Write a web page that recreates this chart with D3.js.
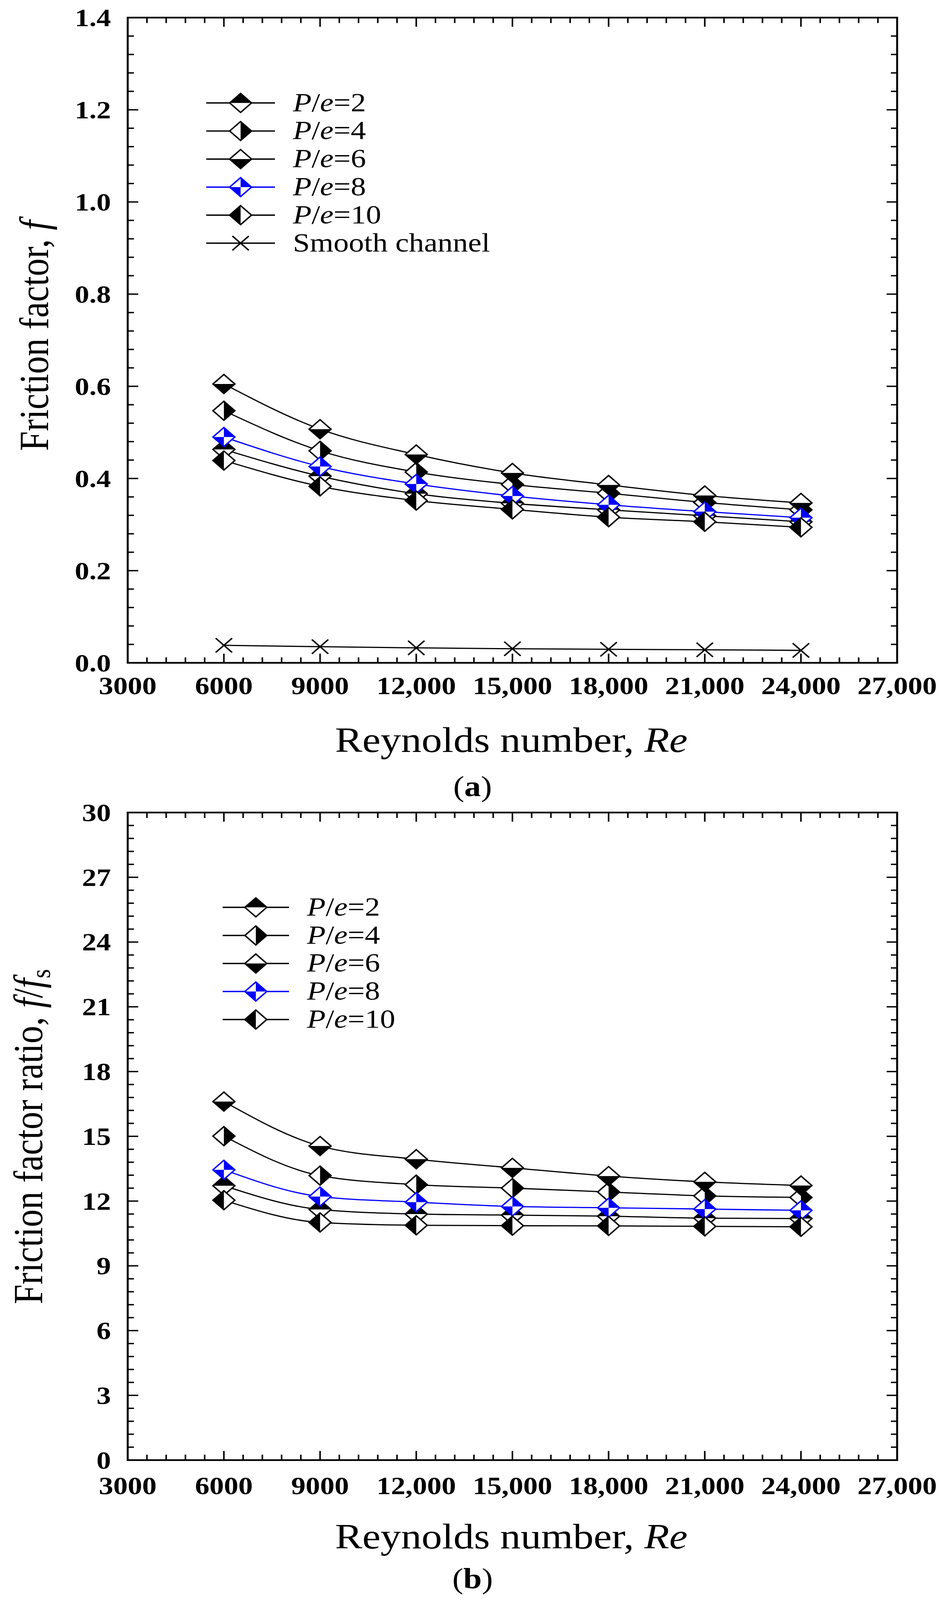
<!DOCTYPE html>
<html>
<head>
<meta charset="utf-8">
<script src="https://cdn.jsdelivr.net/npm/d3@7/dist/d3.min.js"></script>
<style>
  html, body { margin: 0; padding: 0; background: #fff; overflow: hidden; }
  svg { display: block; }
  text { font-family: "Liberation Serif", "Times New Roman", serif; fill: #000; }
</style>
</head>
<body>
<svg id="chart"></svg>
<script>
// ---------------- DATA ----------------
const reynolds = [6000, 9000, 12000, 15000, 18000, 21000, 24000];
const seriesLabels = ["2", "4", "6", "8", "10"];

// (a) friction factor f
const frictionPe2  = [0.463, 0.405, 0.367, 0.346, 0.332, 0.319, 0.306];
const frictionPe4  = [0.547, 0.460, 0.414, 0.387, 0.368, 0.348, 0.332];
const frictionPe6  = [0.605, 0.507, 0.452, 0.412, 0.386, 0.363, 0.347];
const frictionPe8  = [0.490, 0.426, 0.388, 0.362, 0.343, 0.328, 0.315];
const frictionPe10 = [0.439, 0.383, 0.352, 0.333, 0.316, 0.306, 0.294];
const frictionSmooth = [0.038, 0.035, 0.0325, 0.0305, 0.0294, 0.0283, 0.027];

// (b) friction factor ratio f/fs
const ratioPe2  = [12.71, 11.61, 11.40, 11.35, 11.30, 11.21, 11.19];
const ratioPe4  = [15.01, 13.18, 12.76, 12.60, 12.42, 12.24, 12.17];
const ratioPe6  = [16.61, 14.55, 13.94, 13.54, 13.16, 12.89, 12.72];
const ratioPe8  = [13.45, 12.21, 11.95, 11.75, 11.69, 11.63, 11.57];
const ratioPe10 = [12.04, 11.01, 10.88, 10.86, 10.85, 10.83, 10.81];

// axis ticks
const xTickValues = [3000, 6000, 9000, 12000, 15000, 18000, 21000, 24000, 27000];
const xTickLabels = ["3000", "6000", "9000", "12,000", "15,000", "18,000", "21,000", "24,000", "27,000"];
const yTickValuesA = [0, 0.2, 0.4, 0.6, 0.8, 1.0, 1.2, 1.4];
const yTickLabelsA = ["0.0", "0.2", "0.4", "0.6", "0.8", "1.0", "1.2", "1.4"];
const yTickValuesB = [0, 3, 6, 9, 12, 15, 18, 21, 24, 27, 30];
const yTickLabelsB = ["0", "3", "6", "9", "12", "15", "18", "21", "24", "27", "30"];

// marker styles per series (which half of the diamond is filled)
const markerStyles = ["top", "right", "bottom", "quad", "left"];
const seriesColors = ["#000", "#000", "#000", "#0000ff", "#000"];

// ---------------- DRAWING ----------------
const W = 2417, H = 4724;
const viewH = Math.min(H, window.innerHeight || H);
const svg = d3.select("#chart")
  .attr("width", W).attr("height", viewH)
  .attr("viewBox", `0 0 ${W} ${H}`)
  .attr("preserveAspectRatio", "none");
const BLACK = "#000";

function drawMarker(g, cx, cy, style, color) {
  const w = 28, h = 28;
  const m = g.append("g").attr("transform", `translate(${cx},${cy})`);
  if (style === "x") {
    const s = 21;
    m.append("path").attr("d", `M${-s},${-s}L${s},${s}M${-s},${s}L${s},${-s}`)
      .attr("stroke", color).attr("stroke-width", 4).attr("fill", "none");
    return;
  }
  const diamond = `M0,${-h}L${w},0L0,${h}L${-w},0Z`;
  m.append("path").attr("d", diamond).attr("fill", "#fff");
  let fillPath = "";
  if (style === "top") fillPath = `M${-w},0L0,${-h}L${w},0Z`;
  else if (style === "bottom") fillPath = `M${-w},0L0,${h}L${w},0Z`;
  else if (style === "left") fillPath = `M0,${-h}L${-w},0L0,${h}Z`;
  else if (style === "right") fillPath = `M0,${-h}L${w},0L0,${h}Z`;
  else if (style === "quad") fillPath = `M0,0L0,${-h}L${w},0ZM0,0L0,${h}L${-w},0Z`;
  m.append("path").attr("d", fillPath).attr("fill", color);
  m.append("path").attr("d", diamond).attr("fill", "none")
    .attr("stroke", color).attr("stroke-width", 4).attr("stroke-linejoin", "miter");
}

function drawPanel(cfg) {
  const { left, right, top, bottom, yDomain, yMinorStep, yTickValues, yTickLabels, series } = cfg;
  const x = d3.scaleLinear().domain([3000, 27000]).range([left, right]);
  const y = d3.scaleLinear().domain(yDomain).range([bottom, top]);
  const g = svg.append("g");

  // minor/major ticks (inward, on all four sides)
  const majorLen = 27, minorLen = 16;
  const xMinor = d3.range(3000, 27000 + 1, 600);
  const yMinor = d3.range(0, 1000).map(i => +(yDomain[0] + i * yMinorStep).toFixed(6)).filter(v => v <= yDomain[1] + 1e-9);
  const isMajorX = v => xTickValues.some(t => Math.abs(t - v) < 1e-6);
  const isMajorY = v => yTickValues.some(t => Math.abs(t - v) < 1e-6);

  const tickG = g.append("g").attr("stroke", BLACK).attr("stroke-width", 4);
  xMinor.forEach(v => {
    const L = isMajorX(v) ? majorLen : minorLen;
    const px = x(v);
    tickG.append("line").attr("x1", px).attr("x2", px).attr("y1", bottom).attr("y2", bottom - L);
    tickG.append("line").attr("x1", px).attr("x2", px).attr("y1", top).attr("y2", top + L);
  });
  yMinor.forEach(v => {
    const L = isMajorY(v) ? majorLen : minorLen;
    const py = y(v);
    tickG.append("line").attr("y1", py).attr("y2", py).attr("x1", left).attr("x2", left + L);
    tickG.append("line").attr("y1", py).attr("y2", py).attr("x1", right).attr("x2", right - L);
  });

  // frame
  g.append("rect").attr("x", left).attr("y", top).attr("width", right - left).attr("height", bottom - top)
    .attr("fill", "none").attr("stroke", BLACK).attr("stroke-width", 5);

  // tick labels
  xTickValues.forEach((v, i) => {
    g.append("text").attr("x", x(v)).attr("y", bottom + cfg.xLabelOffset)
      .attr("text-anchor", "middle").attr("font-size", 74).attr("font-weight", "bold")
      .text(xTickLabels[i]);
  });
  yTickValues.forEach((v, i) => {
    g.append("text").attr("x", left - 43).attr("y", y(v)).attr("dy", "0.34em")
      .attr("text-anchor", "end").attr("font-size", 74).attr("font-weight", "bold")
      .text(yTickLabels[i]);
  });

  // series lines + markers
  const line = d3.line().x(d => x(d[0])).y(d => y(d[1])).curve(d3.curveMonotoneX);
  series.forEach(s => {
    const pts = reynolds.map((r, i) => [r, s.values[i]]);
    g.append("path").attr("d", line(pts)).attr("fill", "none")
      .attr("stroke", s.color).attr("stroke-width", 3.5);
  });
  series.forEach(s => {
    reynolds.forEach((r, i) => drawMarker(g, x(r), y(s.values[i]), s.style, s.color));
  });

  // legend
  const lg = cfg.legend;
  series.slice().sort((a, b) => a.legendOrder - b.legendOrder).forEach((s, i) => {
    const ry = lg.y0 + i * lg.dy;
    g.append("line").attr("x1", lg.x1).attr("x2", lg.x2).attr("y1", ry).attr("y2", ry)
      .attr("stroke", s.color).attr("stroke-width", 4);
    drawMarker(g, lg.xm, ry, s.style, s.color);
    const t = g.append("text").attr("x", lg.xt).attr("y", ry).attr("dy", "0.31em").attr("font-size", 78);
    if (s.label === null) {
      t.text("Smooth channel");
    } else {
      t.append("tspan").attr("font-style", "italic").text("P");
      t.append("tspan").text("/");
      t.append("tspan").attr("font-style", "italic").text("e");
      t.append("tspan").text("=" + s.label);
    }
  });
  return { x, y };
}

function makeSeries(arrs) {
  return arrs.map((vals, i) => ({
    values: vals, style: markerStyles[i], color: seriesColors[i],
    label: seriesLabels[i], legendOrder: i
  }));
}

// ---- Panel (a)
const seriesA = makeSeries([frictionPe2, frictionPe4, frictionPe6, frictionPe8, frictionPe10]);
seriesA.push({ values: frictionSmooth, style: "x", color: "#000", label: null, legendOrder: 5 });
drawPanel({
  left: 327, right: 2297, top: 52, bottom: 1957,
  yDomain: [0, 1.4], yMinorStep: 0.04,
  yTickValues: yTickValuesA, yTickLabels: yTickLabelsA,
  series: seriesA, xLabelOffset: 92,
  legend: { x1: 528, x2: 704, xm: 616, xt: 750, y0: 304, dy: 82.8 }
});

// ---- Panel (b)
const seriesB = makeSeries([ratioPe2, ratioPe4, ratioPe6, ratioPe8, ratioPe10]);
drawPanel({
  left: 327, right: 2297, top: 2399, bottom: 4311,
  yDomain: [0, 30], yMinorStep: 0.6,
  yTickValues: yTickValuesB, yTickLabels: yTickLabelsB,
  series: seriesB, xLabelOffset: 101,
  legend: { x1: 570, x2: 740, xm: 655, xt: 786, y0: 2679, dy: 82.8 }
});

// ---- axis titles
function xTitle(yBase) {
  const t = svg.append("text").attr("x", 1309).attr("y", yBase)
    .attr("text-anchor", "middle").attr("font-size", 105);
  t.append("tspan").text("Reynolds number, ");
  t.append("tspan").attr("font-style", "italic").text("Re");
}
xTitle(2220);
xTitle(4572);

const ytA = svg.append("text").attr("transform", "translate(123,991) rotate(-90)")
  .attr("text-anchor", "middle").attr("font-size", 105);
ytA.append("tspan").text("Friction factor, ");
ytA.append("tspan").attr("font-style", "italic").text("f");

const ytB = svg.append("text").attr("transform", "translate(108,3356) rotate(-90)")
  .attr("text-anchor", "middle").attr("font-size", 105);
ytB.append("tspan").text("Friction factor ratio, ");
ytB.append("tspan").attr("font-style", "italic").text("f");
ytB.append("tspan").text("/");
ytB.append("tspan").attr("font-style", "italic").text("f");
ytB.append("tspan").attr("font-size", 70).attr("dy", 20).text("s");

// ---- captions
function caption(letter, yBase) {
  const t = svg.append("text").attr("x", 1210).attr("y", yBase)
    .attr("text-anchor", "middle").attr("font-size", 85);
  t.append("tspan").text("(");
  t.append("tspan").attr("font-weight", "bold").text(letter);
  t.append("tspan").text(")");
}
caption("a", 2350);
caption("b", 4689);
</script>
</body>
</html>
